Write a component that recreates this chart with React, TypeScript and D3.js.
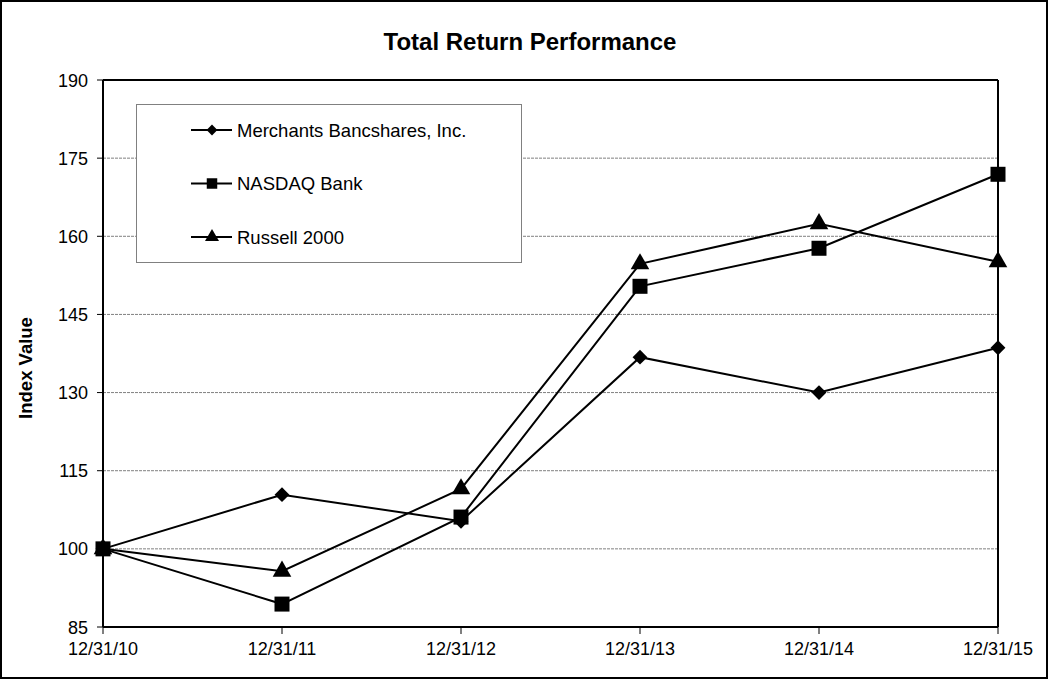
import { useMemo } from 'react';
import * as d3 from 'd3';

const dates = ['12/31/10', '12/31/11', '12/31/12', '12/31/13', '12/31/14', '12/31/15'];
const merchants = [100, 110.4, 105.3, 136.8, 130, 138.6];
const nasdaqBank = [100, 89.4, 106.1, 150.4, 157.7, 171.9];
const russell = [100, 95.7, 111.5, 154.7, 162.4, 155.1];
const yTicks = [85, 100, 115, 130, 145, 160, 175, 190];

const seriesNames = ['Merchants Bancshares, Inc.', 'NASDAQ Bank', 'Russell 2000'];

const W = 1049;
const H = 681;
const margin = { left: 103, right: 51, top: 80, bottom: 54 };
const font = '"Liberation Sans", Arial, sans-serif';

// diamond is a square turned 45 degrees, wider than d3's own diamond
const symbolPath = (kind: string, big: boolean) => {
  if (kind === 'diamond') return d3.symbol(d3.symbolSquare, big ? 110 : 58)();
  if (kind === 'square') return d3.symbol(d3.symbolSquare, big ? 225 : 110)();
  return d3.symbol(d3.symbolTriangle, big ? 150 : 85)();
};
const symbolRot = (kind: string) => (kind === 'diamond' ? ' rotate(45)' : '');

const App = () => {
  const x = d3.scalePoint<string>()
    .domain(dates)
    .range([margin.left, W - margin.right]);
  const y = d3.scaleLinear()
    .domain([85, 190])
    .range([H - margin.bottom, margin.top]);

  const series = useMemo(() => [
    { name: seriesNames[0], values: merchants, kind: 'diamond' },
    { name: seriesNames[1], values: nasdaqBank, kind: 'square' },
    { name: seriesNames[2], values: russell, kind: 'triangle' },
  ], []);

  const line = d3.line<number>()
    .x((_, i) => x(dates[i]) as number)
    .y(d => y(d));

  const x0 = margin.left;
  const x1 = W - margin.right;
  const y0 = H - margin.bottom;

  return (
    <svg width={W} height={H} style={{ position: 'absolute', left: 0, top: 0, background: '#fff' }}
      fontFamily={font}>
      <rect x={1} y={1} width={W - 3} height={H - 4} fill="#fff" stroke="#000" strokeWidth={2} />

      <text x={530} y={50} textAnchor="middle" fontSize={24} fontWeight="bold">Total Return Performance</text>

      {/* gridlines */}
      {yTicks.filter(t => t !== 85 && t !== 190).map(t => (
        <line key={t} x1={x0} x2={x1} y1={y(t)} y2={y(t)} stroke="#808080" strokeWidth={1}
          strokeDasharray="3,1" />
      ))}

      {/* legend */}
      <rect x={136.5} y={104.5} width={385} height={158} fill="#fff" stroke="#808080" strokeWidth={1} />
      {series.map((s, i) => {
        const ly = 130 + i * 53.5;
        return (
          <g key={s.name}>
            <line x1={191} x2={232} y1={ly} y2={ly} stroke="#000" strokeWidth={2} />
            <path d={symbolPath(s.kind, false) as string} transform={`translate(212,${ly})${symbolRot(s.kind)}`} fill="#000" />
            <text x={237} y={ly + 6.5} fontSize={18.5}>{s.name}</text>
          </g>
        );
      })}

      {/* axes */}
      <line x1={x0} x2={x0} y1={margin.top} y2={y0} stroke="#000" strokeWidth={2} />
      <line x1={x0} x2={x1} y1={margin.top} y2={margin.top} stroke="#000" strokeWidth={2} />
      <line x1={x1} x2={x1} y1={margin.top} y2={y0} stroke="#000" strokeWidth={2} />
      <line x1={x0} x2={x1} y1={y0} y2={y0} stroke="#000" strokeWidth={2} />

      {yTicks.map(t => (
        <g key={t}>
          <line x1={x0 - 6} x2={x0} y1={y(t)} y2={y(t)} stroke="#000" strokeWidth={1} />
          <text x={x0 - 15} y={y(t) + 6.5} textAnchor="end" fontSize={18}>{t}</text>
        </g>
      ))}
      {dates.map(d => (
        <g key={d}>
          <line x1={x(d)} x2={x(d)} y1={y0} y2={y0 + 7} stroke="#000" strokeWidth={1} />
          <text x={x(d)} y={y0 + 28} textAnchor="middle" fontSize={18}>{d}</text>
        </g>
      ))}

      <text transform={`translate(32,${368}) rotate(-90)`} textAnchor="middle" fontSize={18.5} fontWeight="bold">
        Index Value
      </text>

      {/* series */}
      {series.map(s => (
        <g key={s.name}>
          <path d={line(s.values) as string} fill="none" stroke="#000" strokeWidth={2} />
          {s.values.map((v, i) => (
            <path key={i} d={symbolPath(s.kind, true) as string}
              transform={`translate(${x(dates[i])},${y(v)})${symbolRot(s.kind)}`} fill="#000" />
          ))}
        </g>
      ))}
    </svg>
  );
};

export default App;
